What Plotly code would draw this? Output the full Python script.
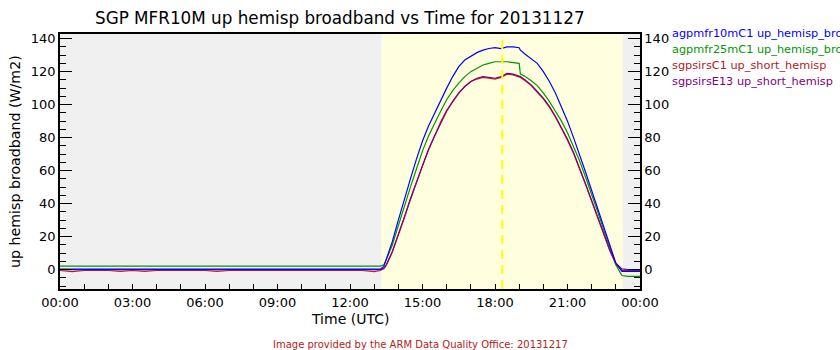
import plotly.graph_objects as go

# ---------------- data ----------------
night_hours = [0.0, 0.5, 1.0, 1.5, 2.0, 2.5, 3.0, 3.5, 4.0, 4.5, 5.0, 5.5, 6.0, 6.5,
               7.0, 7.5, 8.0, 8.5, 9.0, 9.5, 10.0, 10.5, 11.0, 11.5, 12.0, 12.5, 13.0]
day_hours = [13.25, 13.4, 13.5, 13.75, 14.0, 14.25, 14.5, 14.75, 15.0, 15.25, 15.5, 15.75,
             16.0, 16.25, 16.5, 16.75, 17.0, 17.25, 17.5, 17.75, 18.0, 18.25, 18.5, 18.75,
             19.0, 19.05, 19.25, 19.5, 19.75, 20.0, 20.25, 20.5, 20.75, 21.0, 21.25, 21.5,
             21.75, 22.0, 22.25, 22.5, 22.75, 23.0, 23.25, 23.5, 24.0]
hours = night_hours + day_hours

mfr10_night = [0.3, 0.3, 0.6, 0.3, 0.3, 0.4, 0.3, 0.3, 0.5, 0.3, 0.3, 0.3, 0.3, 0.3,
               0.3, 0.3, 0.3, 0.3, 0.3, 0.3, 0.3, 0.3, 0.3, 0.3, 0.3, 0.3, 0.3]
mfr10_day = [0.3, 2, 6, 17, 30, 43, 55, 67, 78, 87, 95, 103,
             110, 117, 123, 127, 129.5, 131.5, 133, 134, 134.5, 134, 135, 135,
             134.5, 133, 130.5, 128, 125, 120, 114, 107, 99, 90, 80, 70,
             59, 48, 37, 26, 15, 4, -1, -1, -1]

mfr25_night = [2.2] * 27
mfr25_day = [2.2, 3, 6, 15, 27, 39, 50, 61, 72, 81, 89, 96,
             103, 108.5, 113, 117, 120, 122, 124, 125, 126, 126, 126, 125.5,
             125, 118.5, 117, 114.5, 111.5, 107, 102, 96, 90, 83, 75, 66,
             56, 46, 35, 24, 13, 3, -3.5, -4, -4]

sirsC1_night = [-0.5, -1.2, -0.5, -0.5, -0.5, -1.0, -0.5, -1.0, -0.5, -0.5, -0.5, -0.5, -0.5, -1.0,
                -0.5, -0.5, -0.5, -0.5, -0.5, -0.5, -0.5, -0.5, -0.5, -0.5, -0.5, -0.5, -1.2]
sirsC1_day = [-0.5, 0.5, 2.5, 10.5, 20.5, 31.5, 42.5, 53, 63, 72.5, 81, 89.5,
              96.5, 102, 107, 111, 114, 115.5, 116.5, 116, 115.5, 116.5, 118.5, 118,
              117, 116.5, 114.5, 111.5, 107.5, 103.5, 98.5, 92.5, 85.5, 78.5, 70.5, 61.5,
              51.5, 41.5, 31.5, 21.5, 11.5, 3.5, -0.5, -0.5, -0.5]

sirsE13_night = [0.0] * 27
sirsE13_day = [0, 1, 3, 11, 21, 32, 43, 53, 63, 73, 81, 89,
               96, 102, 107, 111, 114, 116, 117, 116.5, 116, 117, 119, 118.5,
               117.5, 117, 115, 112, 108, 104, 99, 93, 86, 79, 71, 62,
               52, 42, 32, 22, 12, 4, 0.5, 0, 0]

series_names = ["sgpmfr25mC1 up_hemisp_broadband", "sgpsirsC1 up_short_hemisp",
                "sgpsirsE13 up_short_hemisp", "sgpmfr10mC1 up_hemisp_broadband"]
series_values = [mfr25_night + mfr25_day, sirsC1_night + sirsC1_day,
                 sirsE13_night + sirsE13_day, mfr10_night + mfr10_day]
series_colors = ["#009600", "#B22222", "#800080", "#0000FF"]

legend_order = [3, 0, 1, 2]
legend_labels = ["agpmfr10mC1 up_hemisp_broadband", "agpmfr25mC1 up_hemisp_broadband",
                 "sgpsirsC1 up_short_hemisp", "sgpsirsE13 up_short_hemisp"]

x_tick_vals = [0, 3, 6, 9, 12, 15, 18, 21, 24]
x_tick_text = ["00:00", "03:00", "06:00", "09:00", "12:00", "15:00", "18:00", "21:00", "00:00"]
y_tick_vals = [0, 20, 40, 60, 80, 100, 120, 140]

day_start, day_end = 13.3, 23.3
solar_noon = 18.3

# ---------------- layout geometry ----------------
W, H = 840, 350
L, R, T, B = 60, 200, 34, 61
pw, ph = W - L - R, H - T - B

def px_x(x):
    return (x - L) / pw

def px_y(y):
    return (H - B - y) / ph

FONT = "DejaVu Sans"
fig = go.Figure()
for name, vals, col in zip(series_names, series_values, series_colors):
    fig.add_trace(go.Scatter(x=hours, y=vals, mode="lines", name=name,
                             line=dict(color=col, width=1.2), showlegend=False))

# dummy trace for right axis
fig.add_trace(go.Scatter(x=[None], y=[None], yaxis="y2", showlegend=False))

yr = [-11.7, 142.8]
axis_common = dict(showline=True, linecolor="black", linewidth=1.5, showgrid=False,
                   zeroline=False, tickfont=dict(family=FONT, size=13, color="black"))

fig.update_layout(
    width=W, height=H,
    margin=dict(l=L, r=R, t=T, b=B, pad=0),
    paper_bgcolor="white", plot_bgcolor="#F0F0F0",
    font=dict(family=FONT, color="black"),
    xaxis=dict(range=[0, 24], tickmode="array", tickvals=x_tick_vals, ticktext=x_tick_text,
               ticks="inside", ticklen=5, tickcolor="black", mirror=True,
               ticklabelstandoff=1,
               minor=dict(tickmode="linear", tick0=0, dtick=1, ticks="inside",
                          ticklen=5, tickcolor="black"),
               **axis_common),
    yaxis=dict(range=yr, tickmode="array", tickvals=y_tick_vals, ticks="inside",
               ticklen=12, tickcolor="black", mirror=True,
               minor=dict(tickmode="linear", tick0=0, dtick=5, ticks="inside",
                          ticklen=6, tickcolor="black"),
               **axis_common),
    yaxis2=dict(range=yr, overlaying="y", side="right", tickmode="array",
                tickvals=y_tick_vals, ticks="inside", ticklen=12, tickcolor="black",
                minor=dict(tickmode="linear", tick0=0, dtick=5, ticks="inside",
                           ticklen=6, tickcolor="black"),
                **axis_common),
)

fig.add_shape(type="rect", xref="x", yref="paper", x0=day_start, x1=day_end, y0=0, y1=1,
              fillcolor="#FFFFE0", line=dict(width=0), layer="below")
fig.add_shape(type="line", xref="x", yref="paper", x0=solar_noon, x1=solar_noon, y0=0, y1=1,
              line=dict(color="#FFFF00", width=2, dash="9px,6px"), layer="above")

# title
fig.add_annotation(text="SGP MFR10M up hemisp broadband vs Time for 20131127",
                   xref="paper", yref="paper", x=px_x(340), y=px_y(18),
                   xanchor="center", yanchor="middle", showarrow=False,
                   font=dict(family=FONT, size=16.8, color="black"))
# axis titles
fig.add_annotation(text="Time (UTC)", xref="paper", yref="paper", x=px_x(350), y=px_y(319),
                   xanchor="center", yanchor="middle", showarrow=False,
                   font=dict(family=FONT, size=14, color="black"))
fig.add_annotation(text="up hemisp broadband (W/m2)", xref="paper", yref="paper",
                   x=px_x(15), y=px_y(162), textangle=-90,
                   xanchor="center", yanchor="middle", showarrow=False,
                   font=dict(family=FONT, size=14.2, color="black"))
# legend texts (cut at the right edge, as in the reference)
leg_y = [33, 49, 65, 81]
for i, idx in enumerate(legend_order):
    fig.add_annotation(text=legend_labels[i], xref="paper", yref="paper",
                       x=px_x(670), y=px_y(leg_y[i]), xanchor="left", yanchor="middle",
                       showarrow=False,
                       font=dict(family=FONT, size=11.3, color=series_colors[idx]))
# credit
fig.add_annotation(text="Image provided by the ARM Data Quality Office: 20131217",
                   xref="paper", yref="paper", x=px_x(420), y=px_y(344),
                   xanchor="center", yanchor="middle", showarrow=False,
                   font=dict(family=FONT, size=10, color="#B22222"))

fig.write_html("out.html")
